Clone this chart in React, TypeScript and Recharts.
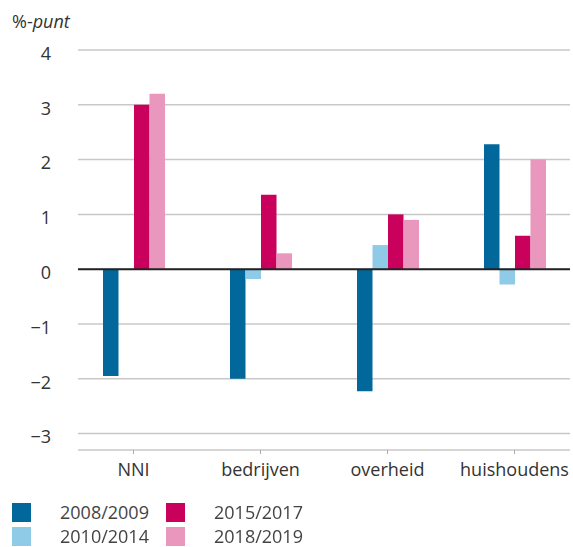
import React from 'react';
import { BarChart, Bar, XAxis, YAxis, CartesianGrid, ReferenceLine } from 'recharts';

const sectors = ['NNI', 'bedrijven', 'overheid', 'huishoudens'];
const p2008_2009 = [-1.95, -2.0, -2.23, 2.28];
const p2010_2014 = [0, -0.18, 0.44, -0.28];
const p2015_2017 = [3.0, 1.36, 1.0, 0.61];
const p2018_2019 = [3.2, 0.29, 0.9, 2.0];
const yTicks = [-3, -2, -1, 0, 1, 2, 3, 4];

const series = [
  { key: 'p2008_2009', name: '2008/2009', color: '#02689b' },
  { key: 'p2010_2014', name: '2010/2014', color: '#8fcae7' },
  { key: 'p2015_2017', name: '2015/2017', color: '#ca005d' },
  { key: 'p2018_2019', name: '2018/2019', color: '#ea97bd' },
];

const data = sectors.map((sector, i) => ({
  sector,
  p2008_2009: p2008_2009[i],
  p2010_2014: p2010_2014[i],
  p2015_2017: p2015_2017[i],
  p2018_2019: p2018_2019[i],
}));

const font = '"Open Sans", sans-serif';

const YTick = ({ x, y, payload }: any) => (
  <text x={x} y={y} dy={5} textAnchor="end" dominantBaseline="middle" fill="#333" fontSize={18} fontFamily={font}>
    {payload.value < 0 ? '\u2212' + Math.abs(payload.value) : payload.value}
  </text>
);

const LegendItem = ({ color, name, left, top }: { color: string; name: string; left: number; top: number }) => (
  <div style={{ position: 'absolute', left, top, display: 'flex', alignItems: 'center' }}>
    <div style={{ width: 19, height: 19, background: color }} />
    <span style={{ marginLeft: 29, fontFamily: font, fontSize: 18, color: '#444', lineHeight: '19px' }}>{name}</span>
  </div>
);

export default function App() {
  return (
    <div style={{ position: 'fixed', left: 0, top: 0, width: 573, height: 547, background: '#fff' }}>
      <div style={{ position: 'absolute', left: 12, top: 9, fontFamily: font, fontSize: 18, color: '#333' }}>
        %-<i>punt</i>
      </div>
      <BarChart
        width={573}
        height={547}
        data={data}
        margin={{ top: 50, right: 3, bottom: 67, left: 0 }}
        barSize={15.5}
        barGap={0}
      >
        <CartesianGrid horizontal vertical={false} stroke="#c8c8c8" strokeWidth={1.5} />
        <XAxis
          dataKey="sector"
          axisLine={false}
          tickLine={{ stroke: '#aaa' }}
          tickSize={4}
          tickMargin={9}
          height={30}
          padding={{ left: -8, right: -8 }}
          tick={{ fill: '#333', fontSize: 18, fontFamily: font }}
          interval={0}
        />
        <YAxis
          domain={[-3.3, 4]}
          ticks={yTicks}
          width={78}
          axisLine={false}
          tickLine={false}
          tickSize={0}
          tickMargin={27}
          tick={<YTick />}
          allowDataOverflow
        />
        {series.map((s) => (
          <Bar key={s.key} dataKey={s.key} name={s.name} fill={s.color} isAnimationActive={false} />
        ))}
        <ReferenceLine y={0} stroke="#222" strokeWidth={2} />
      </BarChart>
      <LegendItem color={series[0].color} name={series[0].name} left={12} top={503} />
      <LegendItem color={series[1].color} name={series[1].name} left={12} top={527} />
      <LegendItem color={series[2].color} name={series[2].name} left={166} top={503} />
      <LegendItem color={series[3].color} name={series[3].name} left={166} top={527} />
    </div>
  );
}
